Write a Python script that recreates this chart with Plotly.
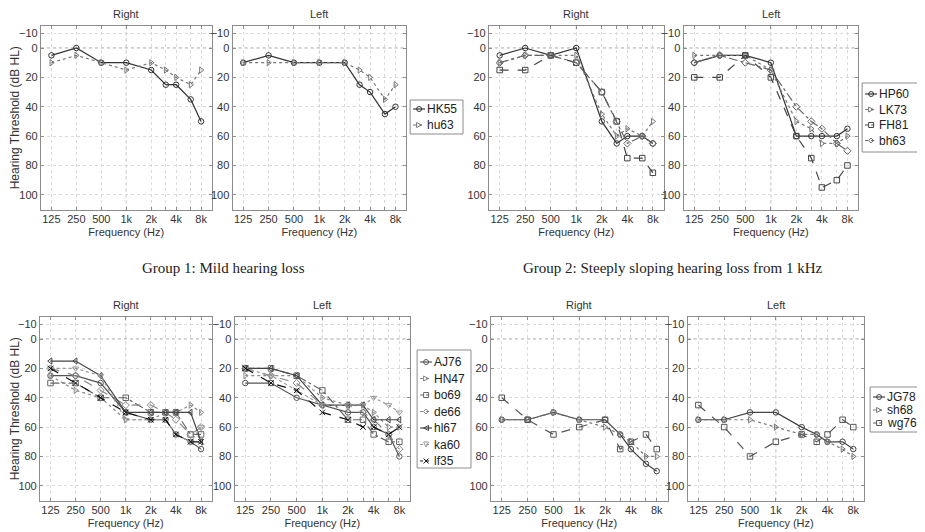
import math
import plotly.graph_objects as go

# ---------------- data ----------------
freq_hz = [125, 250, 500, 1000, 2000, 3000, 4000, 6000, 8000]
freq_tick_text = ['125', '250', '500', '1k', '2k', '', '4k', '', '8k']
threshold_ticks = [-10, 0, 20, 40, 60, 80, 100]

g1_names = ['HK55', 'hu63']
g1_right = [[5, 0, 10, 10, 15, 25, 25, 35, 50],
            [10, 5, 10, 15, 10, 15, 20, 25, 15]]
g1_left = [[10, 5, 10, 10, 10, 25, 30, 45, 40],
           [10, 10, 10, 10, 10, 15, 20, 35, 25]]

g2_names = ['HP60', 'LK73', 'FH81', 'bh63']
g2_right = [[5, 0, 5, 0, 50, 65, 60, 60, 65],
            [10, 5, 5, 5, 45, 60, 55, 60, 50],
            [15, 15, 5, 10, 30, 50, 75, 75, 85],
            [10, 5, 5, 10, 30, 50, 65, 60, 65]]
g2_left = [[10, 5, 5, 10, 60, 60, 60, 60, 55],
           [5, 5, 5, 15, 50, 55, 65, 65, 60],
           [20, 20, 5, 20, 60, 75, 95, 90, 80],
           [10, 5, 10, 15, 40, 50, 55, 65, 70]]

g3_names = ['AJ76', 'HN47', 'bo69', 'de66', 'hl67', 'ka60', 'lf35']
g3_right = [[25, 25, 30, 50, 55, 55, 65, 70, 75],
            [25, 35, 40, 55, 55, 50, 50, 45, 50],
            [30, 30, 40, 40, 50, 50, 50, 65, 65],
            [20, 25, 35, 45, 45, 50, 55, 65, 60],
            [15, 15, 25, 50, 50, 50, 50, 50, 70],
            [20, 20, 25, 55, 55, 55, 65, 70, 60],
            [20, 30, 40, 50, 55, 55, 65, 70, 70]]
g3_left = [[30, 30, 40, 45, 50, 50, 60, 65, 80],
           [25, 25, 25, 40, 45, 45, 50, 60, 60],
           [20, 20, 25, 35, 55, 55, 65, 70, 70],
           [20, 25, 30, 45, 45, 50, 55, 65, 75],
           [20, 20, 25, 45, 45, 45, 55, 55, 55],
           [20, 25, 35, 45, 45, 45, 40, 45, 50],
           [20, 30, 35, 50, 55, 60, 60, 65, 60]]

g4_names = ['JG78', 'sh68', 'wg76']
g4_right = [[55, 55, 50, 55, 55, 65, 75, 85, 90],
            [55, 55, 50, 55, 60, 65, 70, 80, 80],
            [40, 55, 65, 60, 55, 75, 70, 65, 75]]
g4_left = [[55, 55, 50, 50, 60, 65, 70, 70, 75],
           [55, 55, 55, 60, 65, 65, 70, 75, 80],
           [45, 60, 80, 70, 65, 70, 65, 55, 60]]

group_captions = ['Group 1: Mild hearing loss',
                  'Group 2: Steeply sloping hearing loss from 1 kHz']

# ---------------- styles ----------------
g1_styles = [('solid', 'circle', '#333333'), ('dot', 'triangle-right', '#777777')]
g2_styles = [('solid', 'circle', '#333333'), ('dot', 'triangle-right', '#777777'),
             ('dash', 'square', '#444444'), ('dashdot', 'diamond', '#666666')]
g3_styles = [('solid', 'circle', '#555555'), ('dot', 'triangle-right', '#888888'),
             ('dashdot', 'square', '#666666'), ('dash', 'diamond', '#888888'),
             ('solid', 'triangle-left', '#444444'), ('dot', 'triangle-down', '#999999'),
             ('dash', 'x-thin', '#111111')]
g4_styles = [('solid', 'circle', '#444444'), ('dot', 'triangle-right', '#777777'),
             ('dash', 'square', '#555555')]

# page coordinates (pixels in the 925x532 window); the html body has an 8px margin
PAGE_OFF = 8
W, H = 925 - PAGE_OFF, 532 - PAGE_OFF
TOP_ROW = (26, 209.5)
BOT_ROW = (317, 500.5)

panels = [
    # names, values, styles, title, px x0, px x1, row, ylabel
    (g1_names, g1_right, g1_styles, 'Right', 39, 210, TOP_ROW, True),
    (g1_names, g1_left, g1_styles, 'Left', 231, 405, TOP_ROW, False),
    (g2_names, g2_right, g2_styles, 'Right', 488, 663, TOP_ROW, False),
    (g2_names, g2_left, g2_styles, 'Left', 683, 858, TOP_ROW, False),
    (g3_names, g3_right, g3_styles, 'Right', 38, 210, BOT_ROW, True),
    (g3_names, g3_left, g3_styles, 'Left', 233, 409, BOT_ROW, False),
    (g4_names, g4_right, g4_styles, 'Right', 490, 667, BOT_ROW, False),
    (g4_names, g4_left, g4_styles, 'Left', 687, 864, BOT_ROW, False),
]

# legend boxes (pixels): names, styles, box x0, y0, x1, y1, first entry y, entry step
legends = [
    (g1_names, g1_styles, 409, 100, 462, 134, 109, 16),
    (g2_names, g2_styles, 862, 83, 918, 152, 94, 15.5),
    (g3_names, g3_styles, 416, 350, 470, 468, 362, 16.5),
    (g4_names, g4_styles, 870, 387, 919, 432, 397, 13),
]


def px(x):
    return (x - PAGE_OFF) / W


def py(y):
    return 1 - (y - PAGE_OFF) / H


FONT = 'Liberation Sans, Arial, sans-serif'
fig = go.Figure()
layout = dict(width=W, height=H, margin=dict(l=0, r=0, t=0, b=0),
              paper_bgcolor='white', plot_bgcolor='white',
              font=dict(family=FONT, size=11, color='#333333'),
              showlegend=False)
annotations = []
shapes = []

pad = 0.42 * math.log10(2)
xr = [math.log10(freq_hz[0]) - pad, math.log10(freq_hz[-1]) + pad]
one_k = freq_hz[freq_tick_text.index('1k')]


def marker_shape(sym, cx, cy, r, col):
    line = dict(color=col, width=1)
    base = dict(xref='paper', yref='paper', line=line, layer='above')
    if sym == 'circle':
        return dict(type='circle', x0=px(cx - r), x1=px(cx + r), y0=py(cy + r), y1=py(cy - r), **base)
    if sym == 'square':
        return dict(type='rect', x0=px(cx - r), x1=px(cx + r), y0=py(cy + r), y1=py(cy - r), **base)
    if sym == 'diamond':
        pts = [(cx, cy - r), (cx + r, cy), (cx, cy + r), (cx - r, cy)]
    elif sym == 'triangle-right':
        pts = [(cx - r, cy - r), (cx + r, cy), (cx - r, cy + r)]
    elif sym == 'triangle-left':
        pts = [(cx + r, cy - r), (cx - r, cy), (cx + r, cy + r)]
    elif sym == 'triangle-down':
        pts = [(cx - r, cy - r), (cx + r, cy - r), (cx, cy + r)]
    else:  # x
        path = 'M{},{}L{},{}M{},{}L{},{}'.format(px(cx - r), py(cy - r), px(cx + r), py(cy + r),
                                                 px(cx - r), py(cy + r), px(cx + r), py(cy - r))
        return dict(type='path', path=path, **base)
    path = 'M' + 'L'.join('{},{}'.format(px(a), py(b)) for a, b in pts) + 'Z'
    return dict(type='path', path=path, **base)


for i, (names, vals, styles, title, x0p, x1p, row, ylabel) in enumerate(panels, start=1):
    xs = '' if i == 1 else str(i)
    xd = [px(x0p), px(x1p)]
    yd = [py(row[1]), py(row[0])]
    axis_common = dict(showline=True, linecolor='#8c8c8c', linewidth=1, mirror='ticks',
                       ticks='inside', ticklen=3, tickcolor='#8c8c8c',
                       showgrid=True, gridcolor='#dadada', griddash='dot', gridwidth=1,
                       zeroline=False, tickfont=dict(size=11, color='#333333'))
    layout['xaxis' + xs] = dict(domain=xd, type='log', range=xr, tickvals=freq_hz,
                                ticktext=freq_tick_text, anchor='y' + xs, ticklabelstandoff=-1,
                                title=dict(text='Frequency (Hz)', font=dict(size=11, color='#333333'), standoff=4),
                                **axis_common)
    layout['yaxis' + xs] = dict(domain=yd, range=[110, -15], tickvals=threshold_ticks,
                                anchor='x' + xs,
                                title=dict(text='Hearing Threshold (dB HL)' if ylabel else '',
                                           font=dict(size=12, color='#333333'), standoff=2),
                                **axis_common)
    for name, v, (dash, sym, col) in zip(names, vals, styles):
        fig.add_trace(go.Scatter(
            x=freq_hz, y=v, name=name, mode='lines+markers',
            xaxis='x' + xs, yaxis='y' + xs, showlegend=False,
            line=dict(color=col, width=1.2, dash=dash),
            marker=dict(symbol=sym + '-open', size=5.5, color=col, line=dict(width=1, color=col)),
        ))
    annotations.append(dict(text=title, x=(xd[0] + xd[1]) / 2, y=yd[1], xref='paper', yref='paper',
                            xanchor='center', yanchor='bottom', yshift=4, showarrow=False,
                            font=dict(size=11, color='#333333')))
    shapes.append(dict(type='line', xref='x' + xs + ' domain', x0=0, x1=1, yref='y' + xs, y0=0, y1=0,
                       line=dict(color='#9a9a9a', width=1, dash='dot'), layer='below'))
    shapes.append(dict(type='line', xref='x' + xs, x0=one_k, x1=one_k, yref='y' + xs + ' domain', y0=0, y1=1,
                       line=dict(color='#b0b0b0', width=1, dash='dot'), layer='below'))

# group captions
for cap, cx in zip(group_captions, [222, 672]):
    annotations.append(dict(text=cap, x=px(cx), y=py(268), xref='paper', yref='paper',
                            xanchor='center', yanchor='middle', showarrow=False,
                            font=dict(family='Liberation Serif, Times New Roman, serif', size=15, color='#222222')))

# legends drawn as boxes with sample line + marker and a text label
for names, styles, bx0, by0, bx1, by1, ey0, step in legends:
    shapes.append(dict(type='rect', xref='paper', yref='paper', x0=px(bx0), x1=px(bx1),
                       y0=py(by1), y1=py(by0), fillcolor='white',
                       line=dict(color='#8c8c8c', width=1), layer='above'))
    for k, (name, (dash, sym, col)) in enumerate(zip(names, styles)):
        ey = ey0 + k * step
        sx0, sx1 = bx0 + 3, bx0 + 15
        shapes.append(dict(type='line', xref='paper', yref='paper', x0=px(sx0), x1=px(sx1),
                           y0=py(ey), y1=py(ey), layer='above',
                           line=dict(color=col, width=1.2, dash='solid' if dash == 'solid' else 'dot')))
        shapes.append(marker_shape(sym, (sx0 + sx1) / 2, ey, 2.5, col))
        annotations.append(dict(text=name, x=px(sx1), y=py(ey), xref='paper', yref='paper',
                                xanchor='left', yanchor='middle', showarrow=False,
                                font=dict(size=12, color='#222222')))

layout['annotations'] = annotations
layout['shapes'] = shapes

fig.update_layout(**layout)
fig.write_html('out.html')
